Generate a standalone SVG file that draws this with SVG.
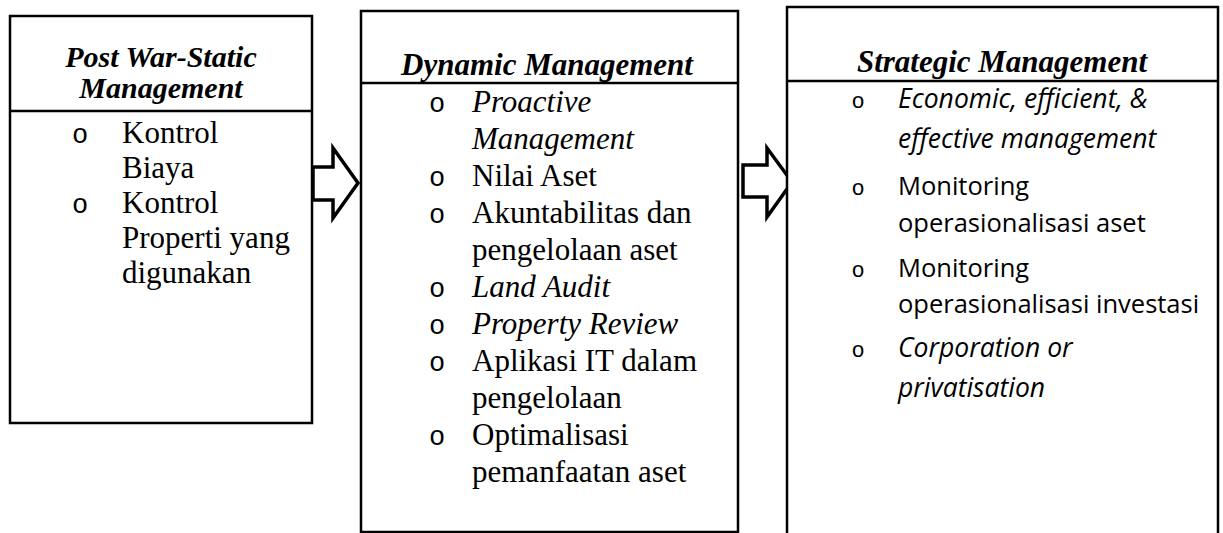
<svg xmlns="http://www.w3.org/2000/svg" width="1223" height="533" viewBox="0 0 1223 533">
<style>
.box{fill:#fff;stroke:#000;stroke-width:2.5}
.div{stroke:#000;stroke-width:2.5}
.arrow{fill:#fff;stroke:#000;stroke-width:3.5;stroke-linejoin:miter}
.title{font-family:"Liberation Serif",serif;font-weight:bold;font-style:italic;font-size:31px;fill:#000;text-anchor:middle}
.t{font-family:"Liberation Serif",serif;font-size:31px;fill:#000}
.ti{font-family:"Liberation Serif",serif;font-size:31px;font-style:italic;fill:#000}
.bul{font-family:"Liberation Mono",monospace;font-size:27px;fill:#000;text-anchor:middle}
.s{font-family:"Open Sans",sans-serif;font-size:25.5px;fill:#000}
.si{font-family:"Open Sans",sans-serif;font-size:26.5px;font-style:italic;fill:#000}
.bul2{font-family:"Liberation Mono",monospace;font-size:22px;fill:#000;text-anchor:middle}
</style>
<rect width="1223" height="533" fill="#fff"/>
<g id="connectors">
<polygon class="arrow" points="313,167 333,167 333,148 358,183 333,218 333,200 313,200"/>
<polygon class="arrow" points="743,165 767,165 767,148 792,182 767,217 767,197 743,197"/>
</g>
<g id="node-static">
<rect class="box" x="10" y="16" width="302" height="407"/>
<line class="div" x1="10" y1="111" x2="312" y2="111"/>
<text class="title" x="161" y="67" style="font-size:30px">Post War-Static</text>
<text class="title" x="161" y="98" style="font-size:30px">Management</text>
<text class="bul" x="80" y="143">o</text>
<text class="t" x="122" y="143">Kontrol</text>
<text class="t" x="122" y="178">Biaya</text>
<text class="bul" x="80" y="213">o</text>
<text class="t" x="122" y="213">Kontrol</text>
<text class="t" x="122" y="248">Properti yang</text>
<text class="t" x="122" y="283">digunakan</text>
</g>
<g id="node-dynamic">
<rect class="box" x="361" y="11" width="377" height="521"/>
<line class="div" x1="361" y1="83" x2="738" y2="83"/>
<text class="title" x="547" y="75">Dynamic Management</text>
<text class="bul" x="437" y="112">o</text>
<text class="ti" x="472" y="112">Proactive</text>
<text class="ti" x="472" y="149">Management</text>
<text class="bul" x="437" y="186">o</text>
<text class="t" x="472" y="186">Nilai Aset</text>
<text class="bul" x="437" y="223">o</text>
<text class="t" x="472" y="223">Akuntabilitas dan</text>
<text class="t" x="472" y="260">pengelolaan aset</text>
<text class="bul" x="437" y="297">o</text>
<text class="ti" x="472" y="297">Land Audit</text>
<text class="bul" x="437" y="334">o</text>
<text class="ti" x="472" y="334">Property Review</text>
<text class="bul" x="437" y="371">o</text>
<text class="t" x="472" y="371">Aplikasi IT dalam</text>
<text class="t" x="472" y="408">pengelolaan</text>
<text class="bul" x="437" y="445">o</text>
<text class="t" x="472" y="445">Optimalisasi</text>
<text class="t" x="472" y="482">pemanfaatan aset</text>
</g>
<g id="node-strategic">
<rect class="box" x="787" y="7" width="431" height="540"/>
<line class="div" x1="787" y1="81" x2="1218" y2="81"/>
<text class="title" x="1002" y="72">Strategic Management</text>
<text class="bul2" x="858" y="108">o</text>
<text class="si" x="898" y="108">Economic, efficient, &amp;</text>
<text class="si" x="898" y="148">effective management</text>
<text class="bul2" x="858" y="195">o</text>
<text class="s" x="898" y="195">Monitoring</text>
<text class="s" x="898" y="232">operasionalisasi aset</text>
<text class="bul2" x="858" y="277">o</text>
<text class="s" x="898" y="277">Monitoring</text>
<text class="s" x="898" y="313">operasionalisasi investasi</text>
<text class="bul2" x="858" y="357">o</text>
<text class="si" x="898" y="357">Corporation or</text>
<text class="si" x="898" y="397">privatisation</text>
</g>
</svg>
